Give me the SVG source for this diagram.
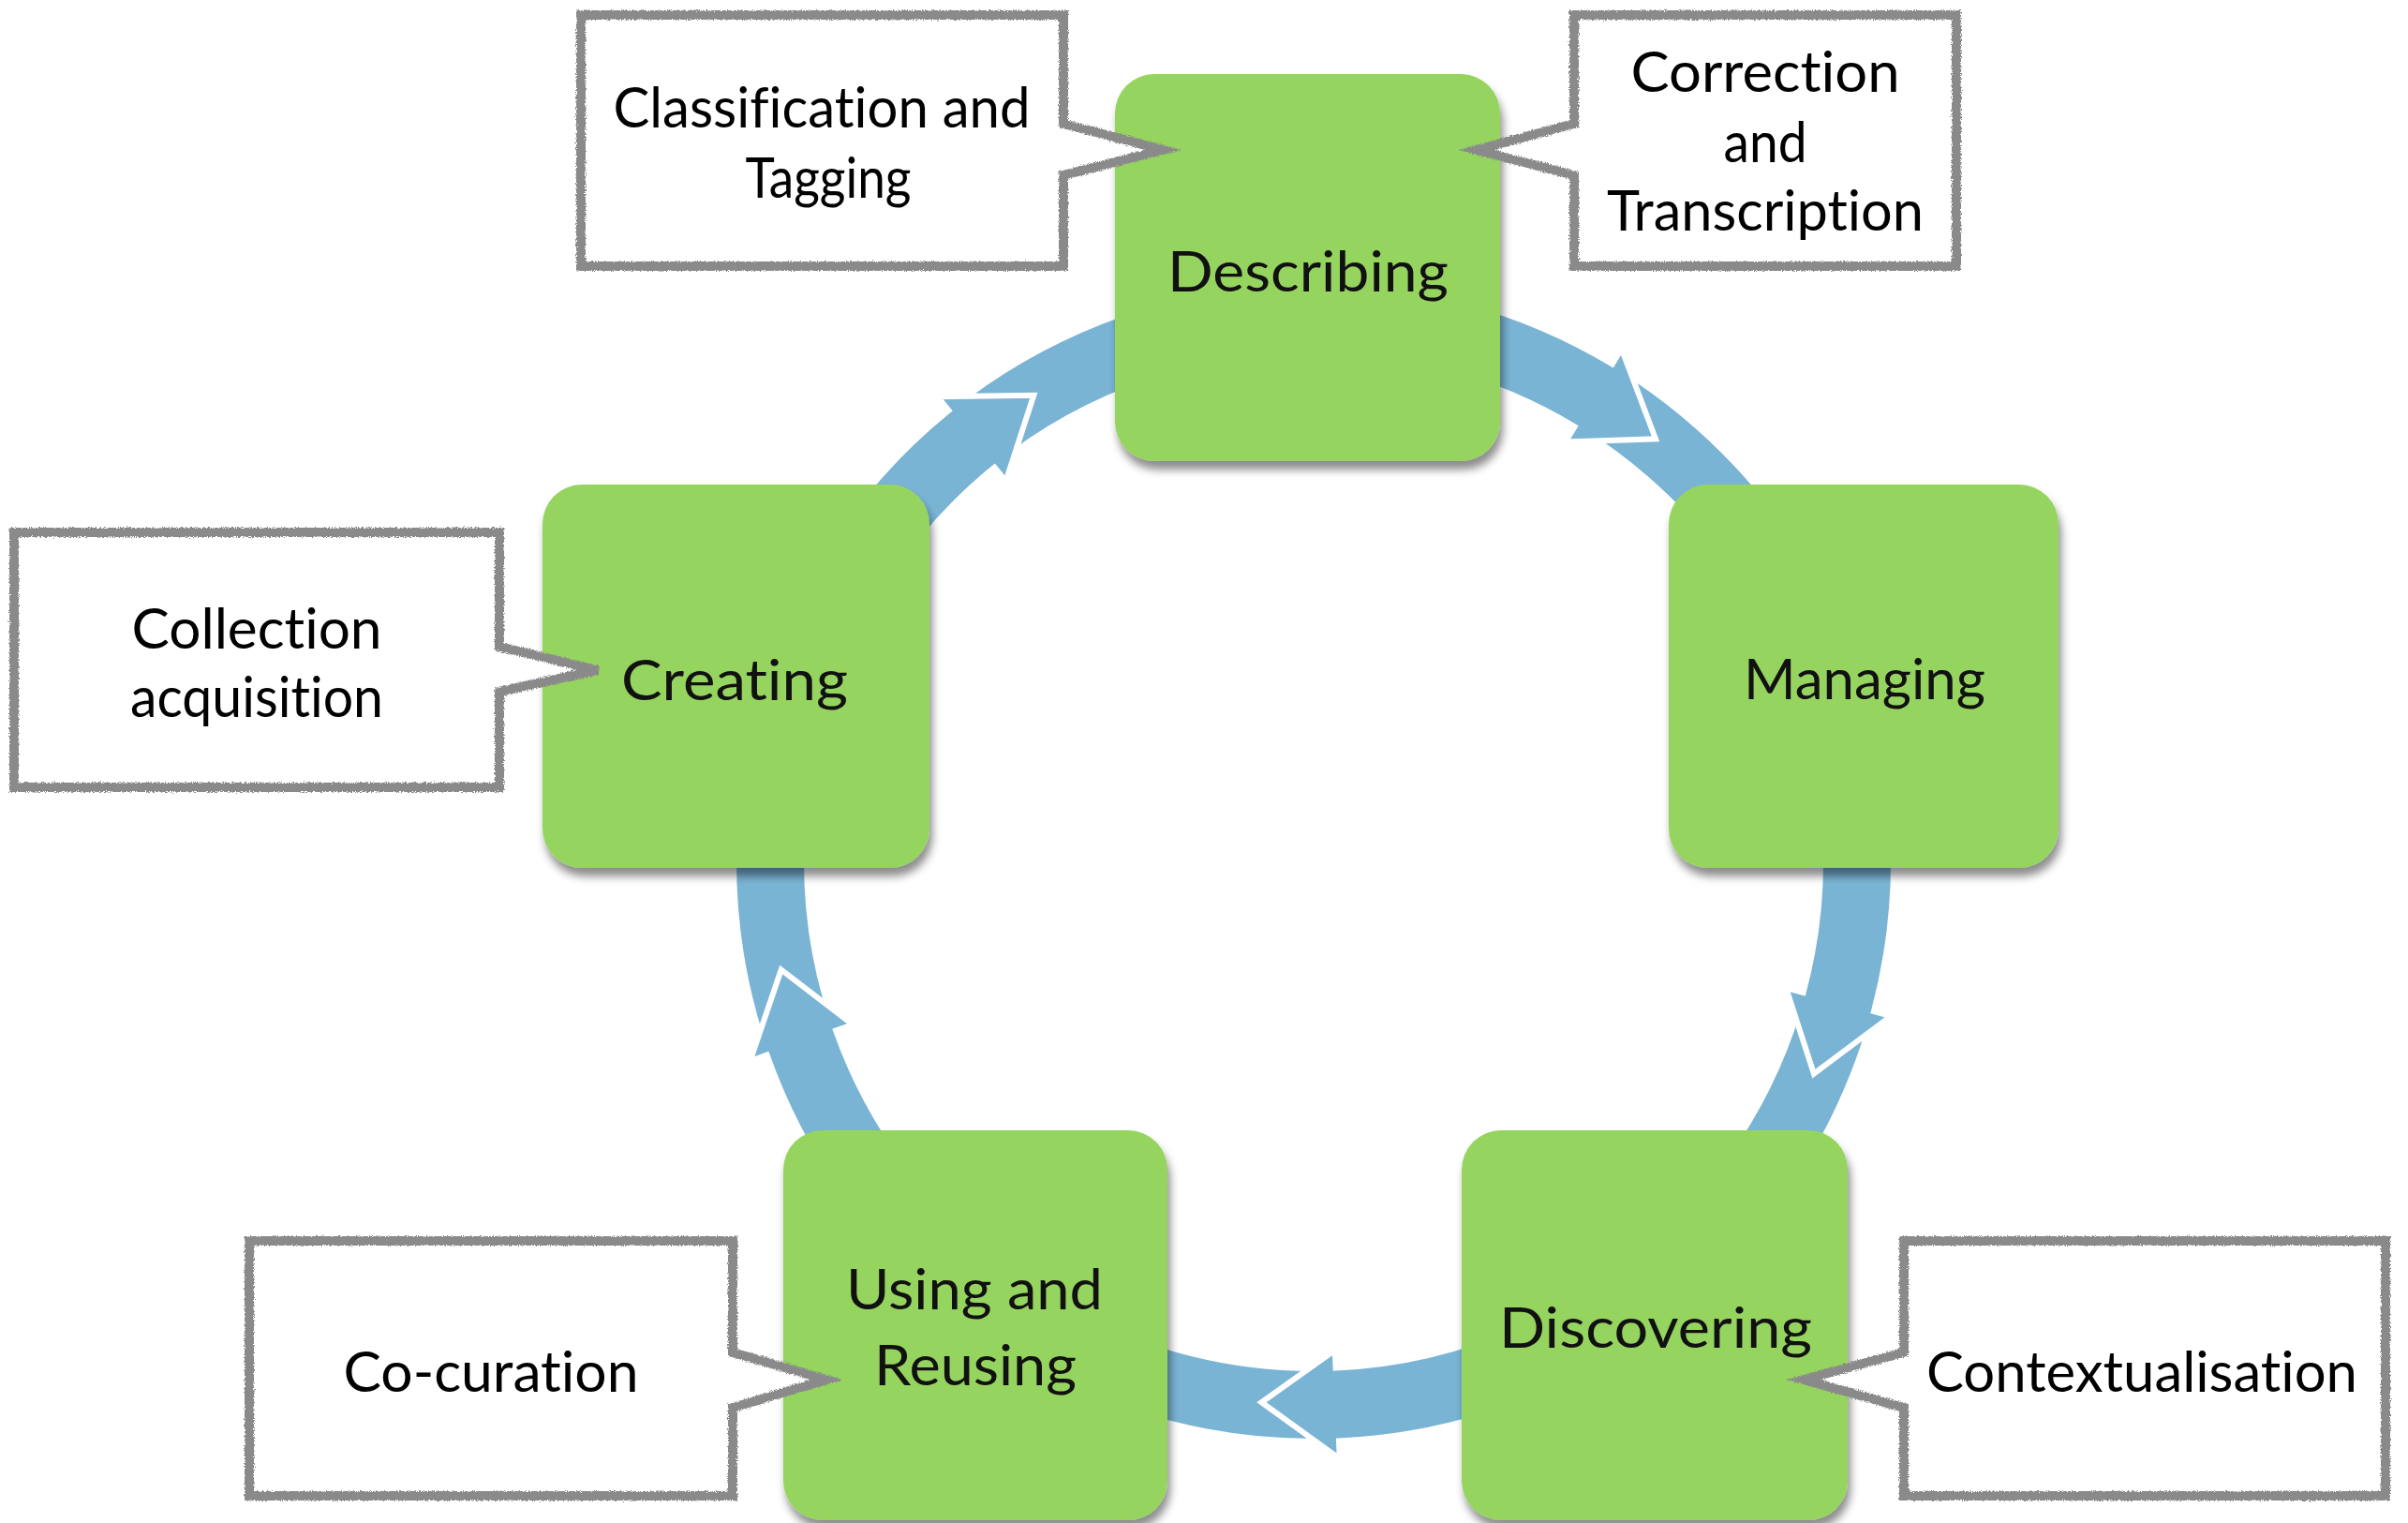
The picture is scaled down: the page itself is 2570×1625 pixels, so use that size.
<svg xmlns="http://www.w3.org/2000/svg" width="2570" height="1625" viewBox="0 0 2570 1625">
  <defs>
    <filter id="shadow" x="-10%" y="-10%" width="125%" height="125%">
      <feDropShadow dx="3" dy="9" stdDeviation="5" flood-color="#000" flood-opacity="0.45"/>
    </filter>
    <filter id="rough" x="-5%" y="-5%" width="110%" height="110%">
      <feTurbulence type="fractalNoise" baseFrequency="0.9" numOctaves="2" seed="3" result="noise"/>
      <feDisplacementMap in="SourceGraphic" in2="noise" scale="5" xChannelSelector="R" yChannelSelector="G"/>
    </filter>
  </defs>
  <style>
    .box { fill: #96d460; filter: url(#shadow); }
    .boxtext { font-family: Lato, "Open Sans", "DejaVu Sans", sans-serif; font-size: 60px; fill: #111; text-anchor: middle; font-variant-ligatures: none; font-feature-settings: "liga" 0, "clig" 0; }
    .callout { fill: #ffffff; stroke: #8a8a8a; stroke-width: 10; stroke-linejoin: miter; filter: url(#rough); }
    .ctext { font-family: Lato, "Open Sans", "DejaVu Sans", sans-serif; font-size: 60px; fill: #000; text-anchor: middle; font-variant-ligatures: none; font-feature-settings: "liga" 0, "clig" 0; }
    .ring { fill: none; stroke: #7ab4d4; stroke-width: 72; }
    .arrow { fill: #7ab4d4; stroke: #ffffff; stroke-width: 6; stroke-linejoin: miter; }
  </style>
  <rect width="2570" height="1625" fill="#ffffff"/>

  <g id="connectors">
    <circle class="ring" cx="1402" cy="919" r="580"/>
    <path id="arrow-describing-managing" class="arrow" d="M1402,300 A619,619 0 0 1 1720.8,388.4 L1730.6,372.1 L1767.0,468.3 L1670.8,471.5 L1680.6,455.3 A541,541 0 0 0 1402,378 Z"/>
    <path id="arrow-managing-discovering" class="arrow" d="M1988.7,721.5 A619,619 0 0 1 1999.9,1079.2 L2018.2,1084.1 L1935.9,1145.6 L1906.2,1054.1 L1924.6,1059.0 A541,541 0 0 0 1914.8,746.4 Z"/>
    <path id="arrow-discovering-using" class="arrow" d="M1765.8,1419.8 A619,619 0 0 1 1429.0,1537.4 L1429.8,1556.4 L1346.4,1496.3 L1424.8,1440.5 L1425.6,1459.5 A541,541 0 0 0 1720.0,1356.7 Z"/>
    <path id="arrow-using-creating" class="arrow" d="M1038.2,1419.8 A619,619 0 0 1 818.5,1125.6 L800.6,1132.0 L833.7,1034.7 L910.0,1093.2 L892.1,1099.6 A541,541 0 0 0 1084.0,1356.7 Z"/>
    <path id="arrow-creating-describing" class="arrow" d="M813.3,727.7 A619,619 0 0 1 1012.5,438.0 L1000.5,423.2 L1103.3,421.8 L1073.5,513.4 L1061.5,498.6 A541,541 0 0 0 887.5,751.8 Z"/>
  </g>

  <g id="node-describing">
    <rect class="box" x="1190" y="79" width="411" height="413" rx="42"/>
    <text class="boxtext" x="1396" y="311" textLength="300" lengthAdjust="spacingAndGlyphs">Describing</text>
  </g>
  <g id="node-managing">
    <rect class="box" x="1781" y="517" width="416" height="409" rx="42"/>
    <text class="boxtext" x="1990" y="746" textLength="258" lengthAdjust="spacingAndGlyphs">Managing</text>
  </g>
  <g id="node-creating">
    <rect class="box" x="579" y="517" width="413" height="409" rx="42"/>
    <text class="boxtext" x="784" y="747" textLength="242" lengthAdjust="spacingAndGlyphs">Creating</text>
  </g>
  <g id="node-using">
    <rect class="box" x="836" y="1206" width="410" height="416" rx="42"/>
    <text class="boxtext" x="1040" y="1397" textLength="274" lengthAdjust="spacingAndGlyphs">Using and</text>
    <text class="boxtext" x="1041" y="1478" textLength="216" lengthAdjust="spacingAndGlyphs">Reusing</text>
  </g>
  <g id="node-discovering">
    <rect class="box" x="1560" y="1206" width="412" height="416" rx="42"/>
    <text class="boxtext" x="1767" y="1438" textLength="334" lengthAdjust="spacingAndGlyphs">Discovering</text>
  </g>

  <g id="callout-classification">
    <path class="callout" d="M620,16 H1135 V132 L1241,160 L1135,187 V284 H620 Z"/>
    <text class="ctext" x="877" y="136" textLength="445" lengthAdjust="spacingAndGlyphs">Classification and</text>
    <text class="ctext" x="884" y="211" textLength="177" lengthAdjust="spacingAndGlyphs">Tagging</text>
  </g>
  <g id="callout-correction">
    <path class="callout" d="M1680,16 H2088 V284 H1680 V187 L1576,160 L1680,132 Z"/>
    <text class="ctext" x="1884" y="98" textLength="287" lengthAdjust="spacingAndGlyphs">Correction</text>
    <text class="ctext" x="1884" y="173" textLength="89" lengthAdjust="spacingAndGlyphs">and</text>
    <text class="ctext" x="1884" y="246" textLength="338" lengthAdjust="spacingAndGlyphs">Transcription</text>
  </g>
  <g id="callout-collection">
    <path class="callout" d="M15,568 H533 V690 L638,715 L533,738 V840 H15 Z"/>
    <text class="ctext" x="274" y="692" textLength="267" lengthAdjust="spacingAndGlyphs">Collection</text>
    <text class="ctext" x="274" y="765" textLength="270" lengthAdjust="spacingAndGlyphs">acquisition</text>
  </g>
  <g id="callout-cocuration">
    <path class="callout" d="M266,1324 H782 V1443 L882,1472 L782,1502 V1596 H266 Z"/>
    <text class="ctext" x="524" y="1485" textLength="315" lengthAdjust="spacingAndGlyphs">Co-curation</text>
  </g>
  <g id="callout-contextualisation">
    <path class="callout" d="M2032,1324 H2546 V1596 H2032 V1502 L1925,1472 L2032,1443 Z"/>
    <text class="ctext" x="2286" y="1485" textLength="460" lengthAdjust="spacingAndGlyphs">Contextualisation</text>
  </g>
</svg>
